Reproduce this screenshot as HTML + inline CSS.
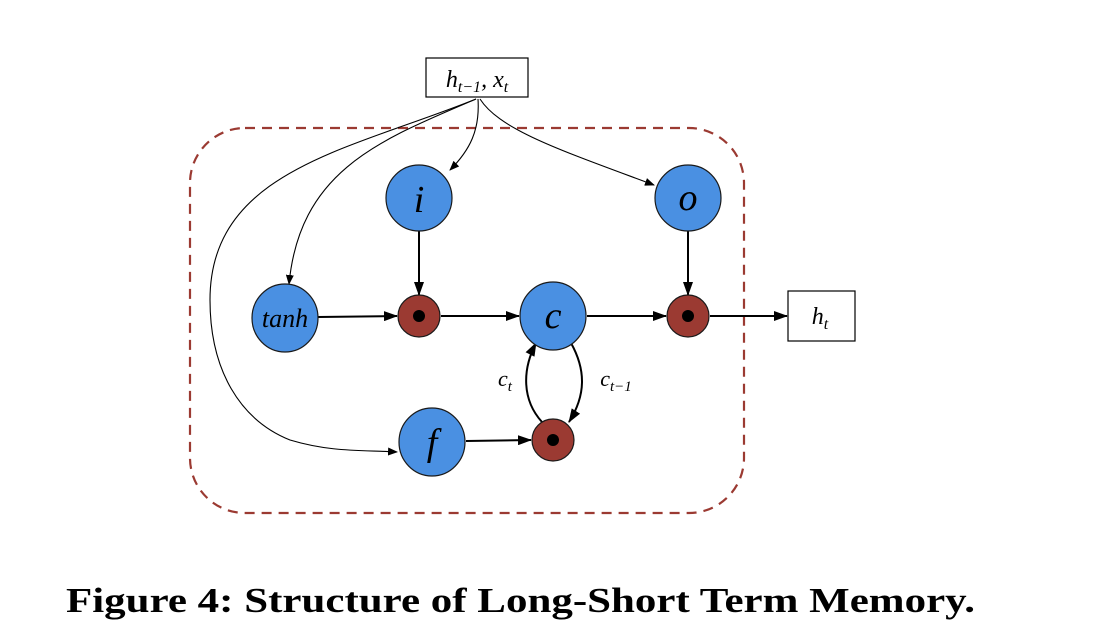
<!DOCTYPE html>
<html><head><meta charset="utf-8"><style>html,body{margin:0;padding:0;background:#fff}svg{display:block}</style></head>
<body>
<svg width="1110" height="632" viewBox="0 0 1110 632" xmlns="http://www.w3.org/2000/svg">
<defs>
<marker id="a" markerWidth="10" markerHeight="8" refX="9" refY="4" orient="auto" markerUnits="userSpaceOnUse"><path d="M0,0 L10,4 L0,8 z" fill="#000"/></marker>
<marker id="b" markerWidth="14" markerHeight="10" refX="13" refY="5" orient="auto" markerUnits="userSpaceOnUse"><path d="M0,0 L14,5 L0,10 z" fill="#000"/></marker>
</defs>
<rect x="190" y="128" width="554" height="385" rx="55" fill="none" stroke="#9b3a32" stroke-width="2.2" stroke-dasharray="10,7"/>
<rect x="426" y="58" width="102" height="39" fill="#fff" stroke="#000" stroke-width="1.2"/>
<text x="477" y="87" text-anchor="middle" font-family="Liberation Serif, serif" font-style="italic" font-size="24">h<tspan font-size="16" dy="5">t−1</tspan><tspan dy="-5">, x</tspan><tspan font-size="16" dy="5">t</tspan></text>
<rect x="788" y="291" width="67" height="50" fill="#fff" stroke="#000" stroke-width="1.2"/>
<text x="820" y="324" text-anchor="middle" font-family="Liberation Serif, serif" font-style="italic" font-size="24">h<tspan font-size="16" dy="5">t</tspan></text>
<g fill="none" stroke="#000" stroke-width="1.1">
<path d="M478,99 C480,130 470,150 450,170" marker-end="url(#a)"/>
<path d="M480,99 C500,130 560,150 654,185" marker-end="url(#a)"/>
<path d="M476,99 C380,140 300,170 289,284" marker-end="url(#a)"/>
<path d="M476,99 C350,150 210,170 210,300 C210,370 240,420 290,440 C330,452 360,450 397,452" marker-end="url(#a)"/>
</g>
<g fill="none" stroke="#000" stroke-width="2">
<path d="M419,231 L419,295" marker-end="url(#b)"/>
<path d="M688,231 L688,295" marker-end="url(#b)"/>
<path d="M318,317 L397,316" marker-end="url(#b)"/>
<path d="M441,316 L519,316" marker-end="url(#b)"/>
<path d="M587,316 L666,316" marker-end="url(#b)"/>
<path d="M710,316 L787,316" marker-end="url(#b)"/>
<path d="M466,441 L531,440" marker-end="url(#b)"/>
<path d="M542,422 C522,400 522,370 536,343" marker-end="url(#b)"/>
<path d="M571,343 C586,370 586,395 569,422" marker-end="url(#b)"/>
</g>
<g fill="#4a90e2" stroke="#1a1a1a" stroke-width="1.2">
<ellipse cx="419" cy="198" rx="33" ry="33"/>
<ellipse cx="688" cy="198" rx="33" ry="33"/>
<ellipse cx="285" cy="318" rx="33" ry="34"/>
<ellipse cx="553" cy="316" rx="33" ry="34"/>
<ellipse cx="432" cy="442" rx="33" ry="34"/>
</g>
<g fill="#9b3a32" stroke="#1a1a1a" stroke-width="1.2">
<ellipse cx="419" cy="316" rx="21" ry="21"/>
<ellipse cx="688" cy="316" rx="21" ry="21"/>
<ellipse cx="553" cy="440" rx="21" ry="21"/>
</g>
<g fill="#000"><circle cx="419" cy="316" r="6"/><circle cx="688" cy="316" r="6"/><circle cx="553" cy="440" r="6"/></g>
<g font-family="Liberation Serif, serif" font-style="italic" text-anchor="middle" fill="#000">
<text x="419" y="212" font-size="38">i</text>
<text x="688" y="210" font-size="38">o</text>
<text x="285" y="327" font-size="26">tanh</text>
<text x="553" y="328" font-size="38">c</text>
<text x="432" y="455" font-size="38">f</text>
<text x="505" y="386" font-size="22">c<tspan font-size="15" dy="5">t</tspan></text>
<text x="616" y="386" font-size="22">c<tspan font-size="15" dy="5">t−1</tspan></text>
</g>
<text x="66" y="612" font-family="Liberation Serif, serif" font-weight="bold" font-size="35" textLength="909" lengthAdjust="spacingAndGlyphs">Figure 4: Structure of Long-Short Term Memory.</text>
</svg>
</body></html>
